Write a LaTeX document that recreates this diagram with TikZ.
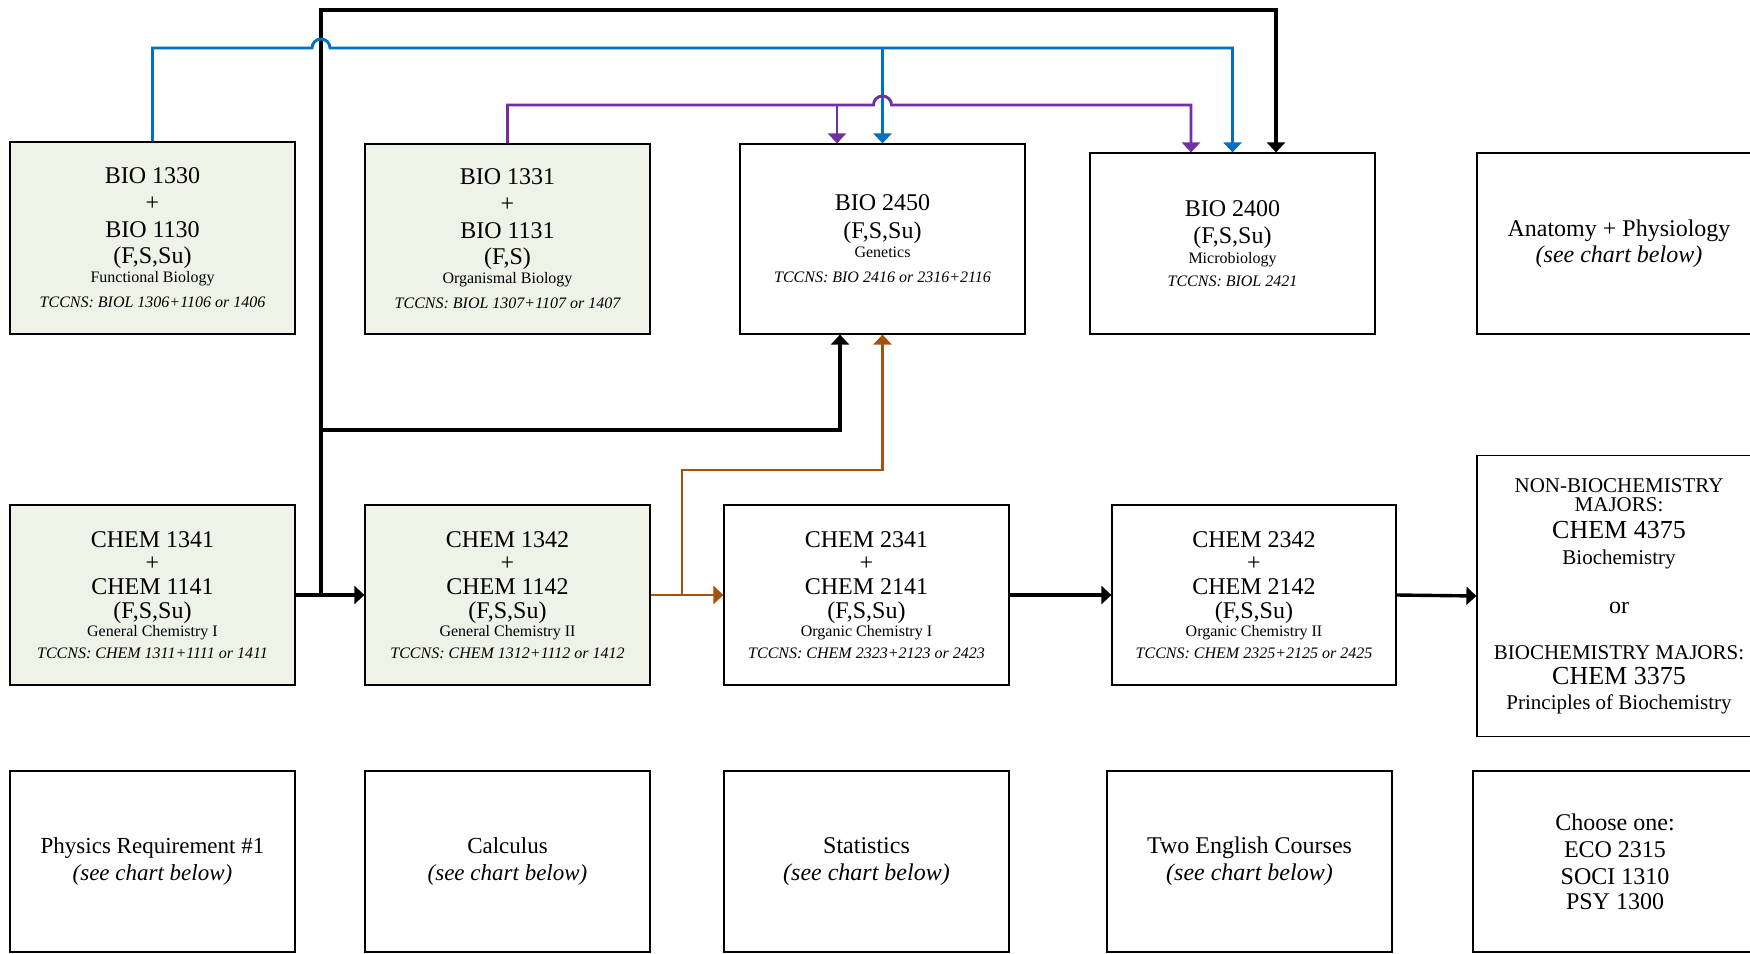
\documentclass[tikz,border=0pt]{standalone}
\usepackage{fontspec}
\setmainfont{Liberation Serif}
\usetikzlibrary{arrows.meta}
\definecolor{boxfill}{RGB}{239,242,231}
\definecolor{lnblue}{RGB}{0,112,192}
\definecolor{lnpurple}{RGB}{112,48,160}
\definecolor{lnbrown}{RGB}{163,82,15}
\newcommand\fsm{\fontsize{8}{9}\selectfont}
\newcommand\fch{\fontsize{13}{14}\selectfont}
\tikzset{
  >={Triangle[length=5pt,width=9pt]},
  cbox/.style={draw=black, line width=0.6pt, inner sep=0pt, align=center, anchor=center},
  gbox/.style={cbox, fill=boxfill},
  blk/.style={draw=black, line width=1.7pt},
  blu/.style={draw=lnblue, line width=1.45pt},
  pur/.style={draw=lnpurple, line width=1.45pt},
  brn/.style={draw=lnbrown, line width=1.45pt},
}
\begin{document}
\begin{tikzpicture}[x=0.5pt,y=-0.5pt]
\useasboundingbox (0,0) rectangle (1750,953);
\clip (0,0) rectangle (1750,953);
\fill[white] (0,0) rectangle (1750,953);

% ---- top row
\node[gbox, minimum width=142.5pt, minimum height=96pt, font=\fontsize{12}{13.5}\selectfont] (b1330) at (152.5,238)
 {BIO 1330\\+\\BIO 1130\\[-0.5pt](F,S,Su)\\[-4pt]{\fsm Functional Biology}\\[-1pt]{\fsm\itshape TCCNS: BIOL 1306+1106 or 1406}};
\node[gbox, minimum width=142.5pt, minimum height=95pt, font=\fontsize{12}{13.5}\selectfont] (b1331) at (507.5,239)
 {BIO 1331\\+\\BIO 1131\\[-0.5pt](F,S)\\[-4pt]{\fsm Organismal Biology}\\[-1pt]{\fsm\itshape TCCNS: BIOL 1307+1107 or 1407}};
\node[cbox, minimum width=142.5pt, minimum height=95pt, font=\fontsize{12}{14}\selectfont] (b2450) at (882.5,239)
 {BIO 2450\\(F,S,Su)\\[-4.5pt]{\fsm Genetics}\\[-1.5pt]{\fsm\itshape TCCNS: BIO 2416 or 2316+2116}};
\node[cbox, minimum width=142.5pt, minimum height=90.5pt, font=\fontsize{12}{13.5}\selectfont] (b2400) at (1232.5,243.5)
 {BIO 2400\\(F,S,Su)\\[-3.5pt]{\fsm Microbiology}\\[-2pt]{\fsm\itshape TCCNS: BIOL 2421}};
\node[cbox, minimum width=142pt, minimum height=90.5pt, font=\fontsize{12}{13}\selectfont] (anat) at (1619,243.5)
 {Anatomy + Physiology\\{\itshape (see chart below)}};

% ---- middle row
\node[gbox, minimum width=142.5pt, minimum height=90pt, font=\fontsize{12}{11.75}\selectfont] (c1341) at (152.5,595)
 {CHEM 1341\\+\\CHEM 1141\\[0.25pt](F,S,Su)\\[-2.75pt]{\fsm General Chemistry I}\\[-0.75pt]{\fsm\itshape TCCNS: CHEM 1311+1111 or 1411}};
\node[gbox, minimum width=142.5pt, minimum height=90pt, font=\fontsize{12}{11.75}\selectfont] (c1342) at (507.5,595)
 {CHEM 1342\\+\\CHEM 1142\\[0.25pt](F,S,Su)\\[-2.75pt]{\fsm General Chemistry II}\\[-0.75pt]{\fsm\itshape TCCNS: CHEM 1312+1112 or 1412}};
\node[cbox, minimum width=142.5pt, minimum height=90pt, font=\fontsize{12}{11.75}\selectfont] (c2341) at (866.5,595)
 {CHEM 2341\\+\\CHEM 2141\\[0.25pt](F,S,Su)\\[-2.75pt]{\fsm Organic Chemistry I}\\[-0.75pt]{\fsm\itshape TCCNS: CHEM 2323+2123 or 2423}};
\node[cbox, minimum width=142pt, minimum height=90pt, font=\fontsize{12}{11.75}\selectfont] (c2342) at (1254,595)
 {CHEM 2342\\+\\CHEM 2142\\[0.25pt](F,S,Su)\\[-2.75pt]{\fsm Organic Chemistry II}\\[-0.75pt]{\fsm\itshape TCCNS: CHEM 2325+2125 or 2425}};
\node[cbox, minimum width=142pt, minimum height=140.5pt, font=\fontsize{10.5}{12.5}\selectfont] (nonbio) at (1619,596)
 {NON-BIOCHEMISTRY\\[-3pt]MAJORS:\\[1pt]{\fch CHEM 4375}\\[0.5pt]Biochemistry\\[12pt]{\fontsize{12}{13}\selectfont or}\\[10.5pt]BIOCHEMISTRY MAJORS:\\{\fch CHEM 3375}\\Principles of Biochemistry};

% ---- bottom row
\node[cbox, minimum width=142.5pt, minimum height=90.5pt, font=\fontsize{11.5}{13.5}\selectfont] (phys) at (152.5,861.5)
 {Physics Requirement \#1\\{\itshape (see chart below)}};
\node[cbox, minimum width=142.5pt, minimum height=90.5pt, font=\fontsize{11.5}{13.5}\selectfont] (calc) at (507.5,861.5)
 {Calculus\\{\itshape (see chart below)}};
\node[cbox, minimum width=142.5pt, minimum height=90.5pt, font=\fontsize{12}{13.5}\selectfont] (stat) at (866.5,861.5)
 {Statistics\\{\itshape (see chart below)}};
\node[cbox, minimum width=142.5pt, minimum height=90.5pt, font=\fontsize{12}{13.5}\selectfont] (eng) at (1249.5,861.5)
 {Two English Courses\\{\itshape (see chart below)}};
\node[cbox, minimum width=142pt, minimum height=90.5pt, font=\fontsize{12}{13.5}\selectfont] (choose) at (1615,861.5)
 {Choose one:\\ECO 2315\\SOCI 1310\\[-1pt]PSY 1300};

% ---- routing coordinates
\coordinate (jA) at (321,595);
\coordinate (kTop) at (1276,10);
\coordinate (kB) at (840,430);
\coordinate (blY) at (152.5,48);
\coordinate (blHop) at (312,48);
\coordinate (blR) at (1232.5,48);
\coordinate (blM) at (882.5,48);
\coordinate (puY) at (507.5,105);
\coordinate (puHop) at (873.5,105);
\coordinate (puR) at (1191,105);
\coordinate (puM) at (837,105);
\coordinate (jB) at (682,595);
\coordinate (brY) at (682,470);

% ---- black connectors
\draw[blk,->] (c1341.east) -- (c1342.west);
\draw[blk,->] (jA) -- (jA |- kTop) -- (kTop) -- (kTop |- b2400.north);
\draw[blk,->] (jA |- kB) -- (kB) -- (kB |- b2450.south);
\draw[blk,->] (c2341.east) -- (c2342.west);
\draw[blk,->] (c2342.east) -- (nonbio.west);

% ---- brown connectors
\draw[brn,->] (c1342.east) -- (c2341.west);
\draw[brn,->] (jB) -- (brY) -- (brY -| b2450.south) -- (b2450.south);

% ---- blue connectors
\draw[blu,->] (b1330.north) -- (blY) -- (blHop) arc[start angle=180,end angle=0,radius=4.5pt] -- (blR) -- (b2400.north);
\draw[blu,->] (blM) -- (b2450.north);

% ---- purple connectors
\draw[pur,->] (b1331.north) -- (puY) -- (puHop) arc[start angle=180,end angle=0,radius=4.5pt] -- (puR) -- (puR |- b2400.north);
\draw[pur,->] (puM) -- (puM |- b2450.north);
\end{tikzpicture}
\end{document}
